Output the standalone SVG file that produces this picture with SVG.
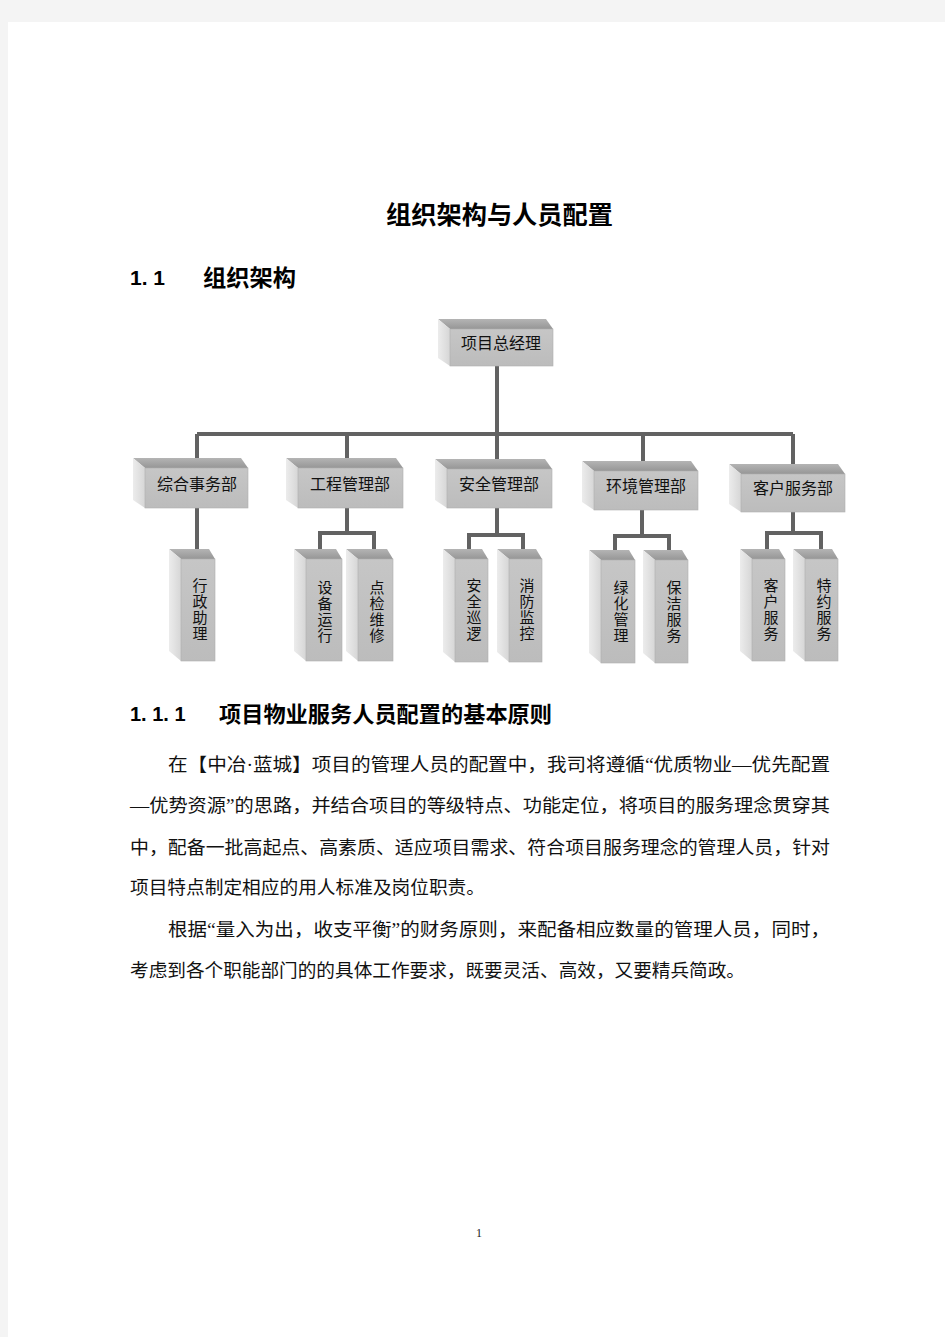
<svg xmlns="http://www.w3.org/2000/svg" width="945" height="1337" viewBox="0 0 945 1337">
<defs>
<linearGradient id="gTop" x1="0" y1="0" x2="0" y2="1"><stop offset="0" stop-color="#b4b4b4"/><stop offset="1" stop-color="#969696"/></linearGradient>
<linearGradient id="gFront" x1="0" y1="0" x2="0" y2="1"><stop offset="0" stop-color="#c6c6c6"/><stop offset="1" stop-color="#bcbcbc"/></linearGradient>
<linearGradient id="gLeft" x1="0" y1="0" x2="1" y2="0"><stop offset="0" stop-color="#ececec"/><stop offset="1" stop-color="#d6d6d6"/></linearGradient>
<style>
.top{fill:url(#gTop);}
.front{fill:url(#gFront);stroke:#b0b0b0;stroke-width:0.6;}
.left{fill:url(#gLeft);}
.lbl{font-family:"Noto Sans CJK SC","Liberation Sans",sans-serif;font-size:16px;fill:#111;text-anchor:middle;}
.vl{font-family:"Noto Sans CJK SC","Liberation Sans",sans-serif;font-size:15px;fill:#111;writing-mode:vertical-rl;letter-spacing:1px;}
.conn{stroke:#626262;stroke-width:4;fill:none;stroke-linejoin:miter;}
.h1{font-family:"Liberation Sans","Noto Sans CJK SC",sans-serif;font-weight:bold;fill:#000;}
.body{font-family:"Liberation Serif","Noto Sans CJK SC",serif;font-size:18.5px;fill:#111;}
</style>
</defs>
<rect x="0" y="0" width="945" height="1337" fill="#f4f4f4"/>
<rect x="8" y="22" width="937" height="1315" fill="#ffffff"/>

<text class="h1" x="386" y="224" font-size="25" textLength="227" lengthAdjust="spacingAndGlyphs">组织架构与人员配置</text>
<text class="h1" x="130" y="285" font-size="21">1. 1</text>
<text class="h1" x="203" y="286" font-size="23" textLength="93" lengthAdjust="spacingAndGlyphs">组织架构</text>

<g id="connectors">
<path class="conn" d="M497 366 V434 M197 434 H793 M197 434 V459 M347 434 V459 M497 434 V460 M643 434 V461 M793 434 V464"/>
<path class="conn" d="M197 508 V550"/>
<path class="conn" d="M347 508 V533 M320 550 V533 H374 V550"/>
<path class="conn" d="M497 508 V535 M469 550 V535 H523 V550"/>
<path class="conn" d="M642 510 V536 M615 551 V536 H669 V551"/>
<path class="conn" d="M793 512 V533 M767 550 V533 H821 V550"/>
</g>

<g id="n-top">
<polygon class="top" points="438,319 546,319 553,329 450,329"/>
<polygon class="left" points="438,319 450,329 450,366 438,358"/>
<rect class="front" x="450" y="329" width="103" height="37"/>
<text class="lbl" x="501" y="349">项目总经理</text>
</g>

<g id="n-zh">
<polygon class="top" points="133,458 241,458 248,468 145,468"/>
<polygon class="left" points="133,458 145,468 145,508 133,500"/>
<rect class="front" x="145" y="468" width="103" height="40"/>
<text class="lbl" x="197" y="490">综合事务部</text>
</g>
<g id="n-gc">
<polygon class="top" points="286,458 396,458 403,468 298,468"/>
<polygon class="left" points="286,458 298,468 298,508 286,500"/>
<rect class="front" x="298" y="468" width="105" height="40"/>
<text class="lbl" x="350" y="490">工程管理部</text>
</g>
<g id="n-aq">
<polygon class="top" points="435,459 545,459 552,469 447,469"/>
<polygon class="left" points="435,459 447,469 447,508 435,500"/>
<rect class="front" x="447" y="469" width="105" height="39"/>
<text class="lbl" x="499" y="490">安全管理部</text>
</g>
<g id="n-hj">
<polygon class="top" points="582,461 691,461 698,471 594,471"/>
<polygon class="left" points="582,461 594,471 594,510 582,502"/>
<rect class="front" x="594" y="471" width="104" height="39"/>
<text class="lbl" x="646" y="492">环境管理部</text>
</g>
<g id="n-kf">
<polygon class="top" points="729,464 838,464 845,474 741,474"/>
<polygon class="left" points="729,464 741,474 741,512 729,504"/>
<rect class="front" x="741" y="474" width="104" height="38"/>
<text class="lbl" x="793" y="494">客户服务部</text>
</g>

<g id="n-xz">
<polygon class="top" points="169,549 209,549 215,559 181,559"/>
<polygon class="left" points="169,549 181,559 181,661 169,651"/>
<rect class="front" x="181" y="559" width="34" height="102"/>
<text class="vl" x="200" y="578">行政助理</text>
</g>
<g id="n-sb">
<polygon class="top" points="294,549 336,549 342,559 306,559"/>
<polygon class="left" points="294,549 306,559 306,661 294,651"/>
<rect class="front" x="306" y="559" width="36" height="102"/>
<text class="vl" x="325" y="580">设备运行</text>
</g>
<g id="n-dj">
<polygon class="top" points="346,549 387,549 393,559 358,559"/>
<polygon class="left" points="346,549 358,559 358,661 346,651"/>
<rect class="front" x="358" y="559" width="35" height="102"/>
<text class="vl" x="377" y="580">点检维修</text>
</g>
<g id="n-aqxl">
<polygon class="top" points="443,549 482,549 488,559 455,559"/>
<polygon class="left" points="443,549 455,559 455,662 443,652"/>
<rect class="front" x="455" y="559" width="33" height="103"/>
<text class="vl" x="474" y="578">安全巡逻</text>
</g>
<g id="n-xf">
<polygon class="top" points="497,549 536,549 542,559 509,559"/>
<polygon class="left" points="497,549 509,559 509,662 497,652"/>
<rect class="front" x="509" y="559" width="33" height="103"/>
<text class="vl" x="527" y="578">消防监控</text>
</g>
<g id="n-lh">
<polygon class="top" points="589,550 629,550 635,560 601,560"/>
<polygon class="left" points="589,550 601,560 601,663 589,653"/>
<rect class="front" x="601" y="560" width="34" height="103"/>
<text class="vl" x="621" y="580">绿化管理</text>
</g>
<g id="n-bj">
<polygon class="top" points="643,550 682,550 688,560 655,560"/>
<polygon class="left" points="643,550 655,560 655,663 643,653"/>
<rect class="front" x="655" y="560" width="33" height="103"/>
<text class="vl" x="674" y="580">保洁服务</text>
</g>
<g id="n-kh">
<polygon class="top" points="740,549 779,549 785,559 752,559"/>
<polygon class="left" points="740,549 752,559 752,661 740,651"/>
<rect class="front" x="752" y="559" width="33" height="102"/>
<text class="vl" x="771" y="578">客户服务</text>
</g>
<g id="n-ty">
<polygon class="top" points="793,549 832,549 838,559 805,559"/>
<polygon class="left" points="793,549 805,559 805,661 793,651"/>
<rect class="front" x="805" y="559" width="33" height="102"/>
<text class="vl" x="824" y="578">特约服务</text>
</g>

<text class="h1" x="130" y="721" font-size="20">1. 1. 1</text>
<text class="h1" x="219" y="722" font-size="22" textLength="333" lengthAdjust="spacingAndGlyphs">项目物业服务人员配置的基本原则</text>

<text class="body" x="168" y="771" textLength="662" lengthAdjust="spacingAndGlyphs">在【中冶·蓝城】项目的管理人员的配置中，我司将遵循“优质物业—优先配置</text>
<text class="body" x="130" y="812" textLength="700" lengthAdjust="spacingAndGlyphs">—优势资源”的思路，并结合项目的等级特点、功能定位，将项目的服务理念贯穿其</text>
<text class="body" x="130" y="854" textLength="700" lengthAdjust="spacingAndGlyphs">中，配备一批高起点、高素质、适应项目需求、符合项目服务理念的管理人员，针对</text>
<text class="body" x="130" y="894" textLength="355" lengthAdjust="spacingAndGlyphs">项目特点制定相应的用人标准及岗位职责。</text>
<text class="body" x="168" y="936" textLength="662" lengthAdjust="spacingAndGlyphs">根据“量入为出，收支平衡”的财务原则，来配备相应数量的管理人员，同时，</text>
<text class="body" x="130" y="977" textLength="615" lengthAdjust="spacingAndGlyphs">考虑到各个职能部门的的具体工作要求，既要灵活、高效，又要精兵简政。</text>

<text x="479" y="1237" font-family="Liberation Serif,serif" font-size="12" fill="#222" text-anchor="middle">1</text>
</svg>
